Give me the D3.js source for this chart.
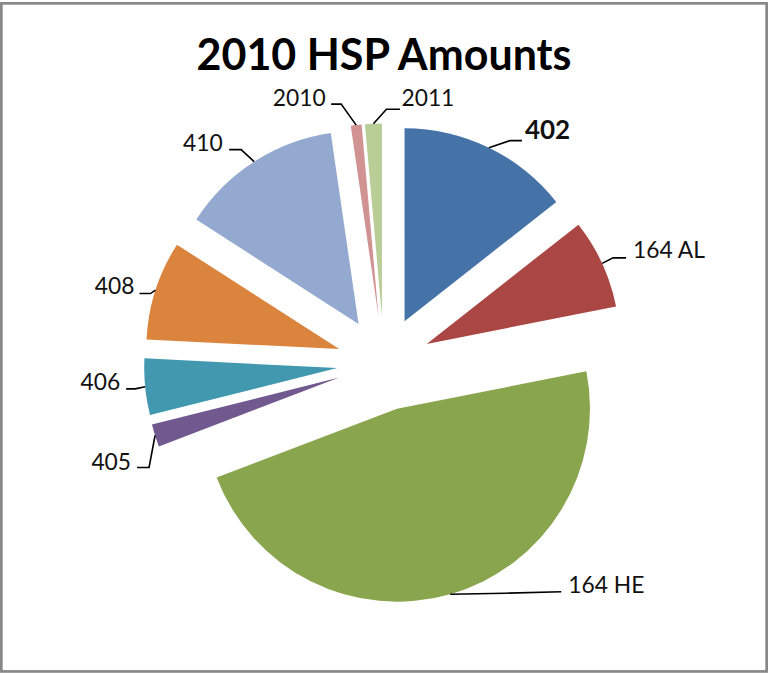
<!DOCTYPE html>
<meta charset="utf-8">
<style>
    body { margin: 0; background: #fff; }
    .slices path { stroke: none; }
    .leaders path { fill: none; stroke: #000; stroke-width: 1.6px; }
    .labels text { font-family: Lato, "Open Sans", sans-serif; font-size: 22.8px; fill: #111; }
</style>
<body>
<script src="https://cdn.jsdelivr.net/npm/d3@7"></script>
<script>
    // slice names, clockwise from 12 o'clock
    var categories = ["402", "164 AL", "164 HE", "405", "406", "408", "410", "2010", "2011"];
    // share of total (%)
    var shares = [14.4, 7.5, 47.3, 1.9, 4.7, 8.3, 13.6, 0.9, 1.4];
    var colors = ["#4572A7", "#AA4643", "#89A54E", "#71588F", "#4198AF", "#DB843D", "#93A9CF", "#D19392", "#B9CD96"];
    var title = "2010 HSP Amounts";

    var width = 768, height = 673,
        cx = 384, cy = 363.5,
        radius = 193, explode = 47;

    // leader line bends / label spots, relative to where the leader leaves the slice
    var labelLayout = [
        {elbow: [21, -7], end: [33, -7], text: [36, -8.5], anchor: "start", bold: true},
        {elbow: [11, -5.5], end: [24, -5.5], text: [31, -5.5], anchor: "start"},
        {elbow: [55, -1], end: [111, -2.5], text: [118, -1.5], anchor: "start"},
        {elbow: [-6, 32], end: [-18, 32], text: [-24, 34], anchor: "end"},
        {elbow: [-10, 2], end: [-19, 2], text: [-25, 3], anchor: "end"},
        {elbow: [-5, 3.5], end: [-16, 3.5], text: [-21, 3.5], anchor: "end"},
        {elbow: [-13, -12], end: [-25, -12], text: [-31.5, -11], anchor: "end"},
        {elbow: [-15, -21], end: [-25, -21], text: [-30.5, -19], anchor: "end"},
        {elbow: [13, -14.5], end: [26.5, -14.5], text: [28, -17.7], anchor: "start"}
    ];

    var svg = d3.select("body").append("svg")
        .attr("width", width)
        .attr("height", height);

    svg.append("rect")
        .attr("x", 1.35).attr("y", 3.35)
        .attr("width", width - 2.7).attr("height", height - 4.9)
        .attr("fill", "#fff")
        .attr("stroke", "#888")
        .attr("stroke-width", 2.7);

    svg.append("text")
        .attr("x", cx).attr("y", 70)
        .attr("text-anchor", "middle")
        .style("font-family", "Lato, 'Open Sans', sans-serif")
        .style("font-weight", "bold")
        .style("font-size", "43px")
        .text(title);

    var pie = d3.pie().sort(null).value(function (d) { return d; });
    var arcs = pie(shares);
    var arc = d3.arc().innerRadius(0).outerRadius(radius);

    function mid(d) { return (d.startAngle + d.endAngle) / 2; }
    function polar(a, r) { return [Math.sin(a) * r, -Math.cos(a) * r]; }

    var g = svg.append("g").attr("transform", "translate(" + cx + "," + cy + ")");

    g.append("g").attr("class", "slices")
        .selectAll("path")
        .data(arcs)
        .enter().append("path")
        .attr("transform", function (d) {
            var p = polar(mid(d), explode);
            return "translate(" + p[0] + "," + p[1] + ")";
        })
        .attr("fill", function (d, i) { return colors[i]; })
        .attr("d", arc);

    var line = d3.line();

    g.append("g").attr("class", "leaders")
        .selectAll("path")
        .data(arcs)
        .enter().append("path")
        .attr("d", function (d, i) {
            var s = polar(mid(d), radius + explode), L = labelLayout[i];
            return line([s, [s[0] + L.elbow[0], s[1] + L.elbow[1]], [s[0] + L.end[0], s[1] + L.end[1]]]);
        });

    g.append("g").attr("class", "labels")
        .selectAll("text")
        .data(arcs)
        .enter().append("text")
        .attr("x", function (d, i) { return polar(mid(d), radius + explode)[0] + labelLayout[i].text[0]; })
        .attr("y", function (d, i) { return polar(mid(d), radius + explode)[1] + labelLayout[i].text[1]; })
        .attr("text-anchor", function (d, i) { return labelLayout[i].anchor; })
        .style("font-weight", function (d, i) { return labelLayout[i].bold ? "bold" : "normal"; })
        .style("font-size", function (d, i) { return labelLayout[i].bold ? "26px" : null; })
        .text(function (d, i) { return categories[i]; });
</script>
</body>
